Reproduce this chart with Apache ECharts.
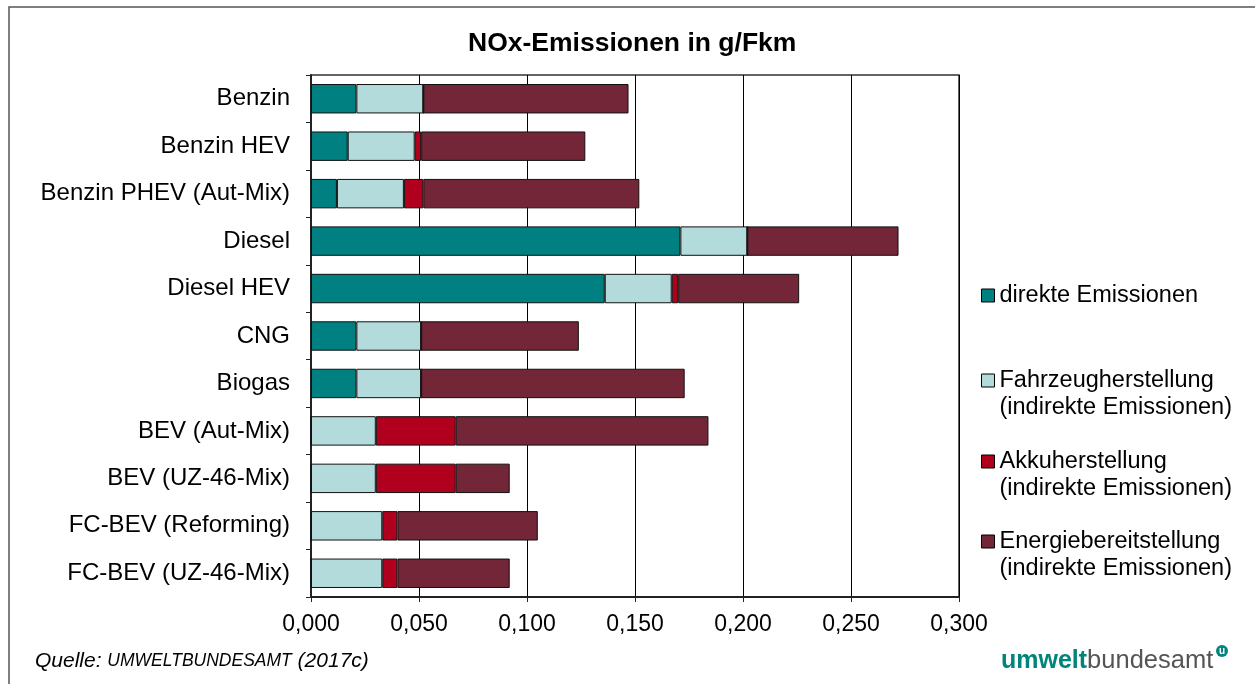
<!DOCTYPE html>
<html>
<head>
<meta charset="utf-8">
<script src="https://cdn.jsdelivr.net/npm/echarts@6/dist/echarts.min.js"></script>
<style>
html,body{margin:0;padding:0;background:#fff;}
#chart{width:1255px;height:684px;}
</style>
</head>
<body>
<div id="chart"></div>
<script>
var categories = ['Benzin','Benzin HEV','Benzin PHEV (Aut-Mix)','Diesel','Diesel HEV','CNG','Biogas','BEV (Aut-Mix)','BEV (UZ-46-Mix)','FC-BEV (Reforming)','FC-BEV (UZ-46-Mix)'];
var direkt   = [0.021, 0.017, 0.012, 0.171, 0.136, 0.021, 0.021, 0.000, 0.000, 0.000, 0.000];
var fahrzeug = [0.031, 0.031, 0.031, 0.031, 0.031, 0.030, 0.030, 0.030, 0.030, 0.033, 0.033];
var akku     = [0.000, 0.003, 0.009, 0.000, 0.003, 0.000, 0.000, 0.037, 0.037, 0.007, 0.007];
var energie  = [0.095, 0.076, 0.100, 0.070, 0.056, 0.073, 0.122, 0.117, 0.025, 0.065, 0.052];
var xTickLabels = ['0,000','0,050','0,100','0,150','0,200','0,250','0,300'];
var seriesNames = ['direkte Emissionen','Fahrzeugherstellung\n(indirekte Emissionen)','Akkuherstellung\n(indirekte Emissionen)','Energiebereitstellung\n(indirekte Emissionen)'];
var seriesColors = ['#008080','#b3dbdb','#b0001e','#722637'];

var chart = echarts.init(document.getElementById('chart'));
var dataSets = [direkt, fahrzeug, akku, energie];
var tallIcon = 'path://M0,0h13v13h-13z M0,40';
var legendTops = [282, 367, 448, 528];
var font = 'Arial, "Liberation Sans", sans-serif';

var legends = seriesNames.map(function (n, i) {
  return {
    orient: 'vertical', left: 981, top: legendTops[i], padding: 0,
    itemWidth: 13, itemHeight: i === 0 ? 13 : 40,
    data: [{ name: n, icon: i === 0 ? 'rect' : tallIcon }],
    textStyle: { fontFamily: font, fontSize: 23.5, color: '#000', lineHeight: 27 },
    itemStyle: { borderColor: '#000', borderWidth: 1 },
    selectedMode: false
  };
});

var series = seriesNames.map(function (n, i) {
  return {
    name: n, type: 'bar', stack: 'total', barWidth: '62%',
    data: dataSets[i],
    itemStyle: { color: seriesColors[i], borderColor: '#111', borderWidth: 1 },
    emphasis: { disabled: true },
    animation: false
  };
});

chart.setOption({
  animation: false,
  backgroundColor: '#fff',
  title: {
    text: 'NOx-Emissionen in g/Fkm', left: 468, top: 30, padding: 0,
    textStyle: { fontFamily: font, fontSize: 26.5, fontWeight: 'bold', color: '#000' }
  },
  legend: legends,
  grid: { left: 311, right: 296, top: 75, bottom: 87, show: true, borderColor: '#333', borderWidth: 1.5, backgroundColor: 'transparent' },
  xAxis: {
    type: 'value', min: 0, max: 0.3, interval: 0.05,
    axisLine: { show: true, lineStyle: { color: '#222', width: 2 } },
    axisTick: { show: true, length: 5, lineStyle: { color: '#222' } },
    axisLabel: {
      margin: 16, fontFamily: font, fontSize: 23, color: '#000',
      formatter: function (v) { return xTickLabels[Math.round(v / 0.05)]; }
    },
    splitLine: { show: true, lineStyle: { color: '#000', width: 1 } }
  },
  yAxis: {
    type: 'category', data: categories, inverse: true,
    axisLine: { show: true, lineStyle: { color: '#222', width: 2 } },
    axisTick: { show: true, length: 5, lineStyle: { color: '#222' } },
    axisLabel: { margin: 21, fontFamily: font, fontSize: 24, color: '#000' }
  },
  series: series,
  graphic: [
    { type: 'polyline', shape: { points: [[9, 700], [9, 7], [1260, 7]] }, style: { stroke: '#555', lineWidth: 1.5, fill: null } },
    { type: 'text', left: 35, top: 651, style: {
        text: '{a|Quelle: }{b|UMWELTBUNDESAMT}{a| (2017c)}',
        rich: {
          a: { fontFamily: font, fontSize: 21, fontStyle: 'italic', fill: '#000' },
          b: { fontFamily: font, fontSize: 17.5, fontStyle: 'italic', fill: '#000' }
        } } },
    { type: 'text', left: 1001, top: 648, style: {
        text: '{a|umwelt}{b|bundesamt}',
        rich: {
          a: { fontFamily: font, fontSize: 25, fontWeight: 'bold', fill: '#00857d' },
          b: { fontFamily: font, fontSize: 25.5, fill: '#555' }
        } } },
    { type: 'circle', shape: { cx: 1222, cy: 651, r: 6 }, style: { fill: '#00857d' } },
    { type: 'text', x: 1222, y: 651, style: { text: 'u', fontFamily: font, fontSize: 10, fontWeight: 'bold', fill: '#fff', align: 'center', verticalAlign: 'middle' } }
  ]
});
</script>
</body>
</html>
